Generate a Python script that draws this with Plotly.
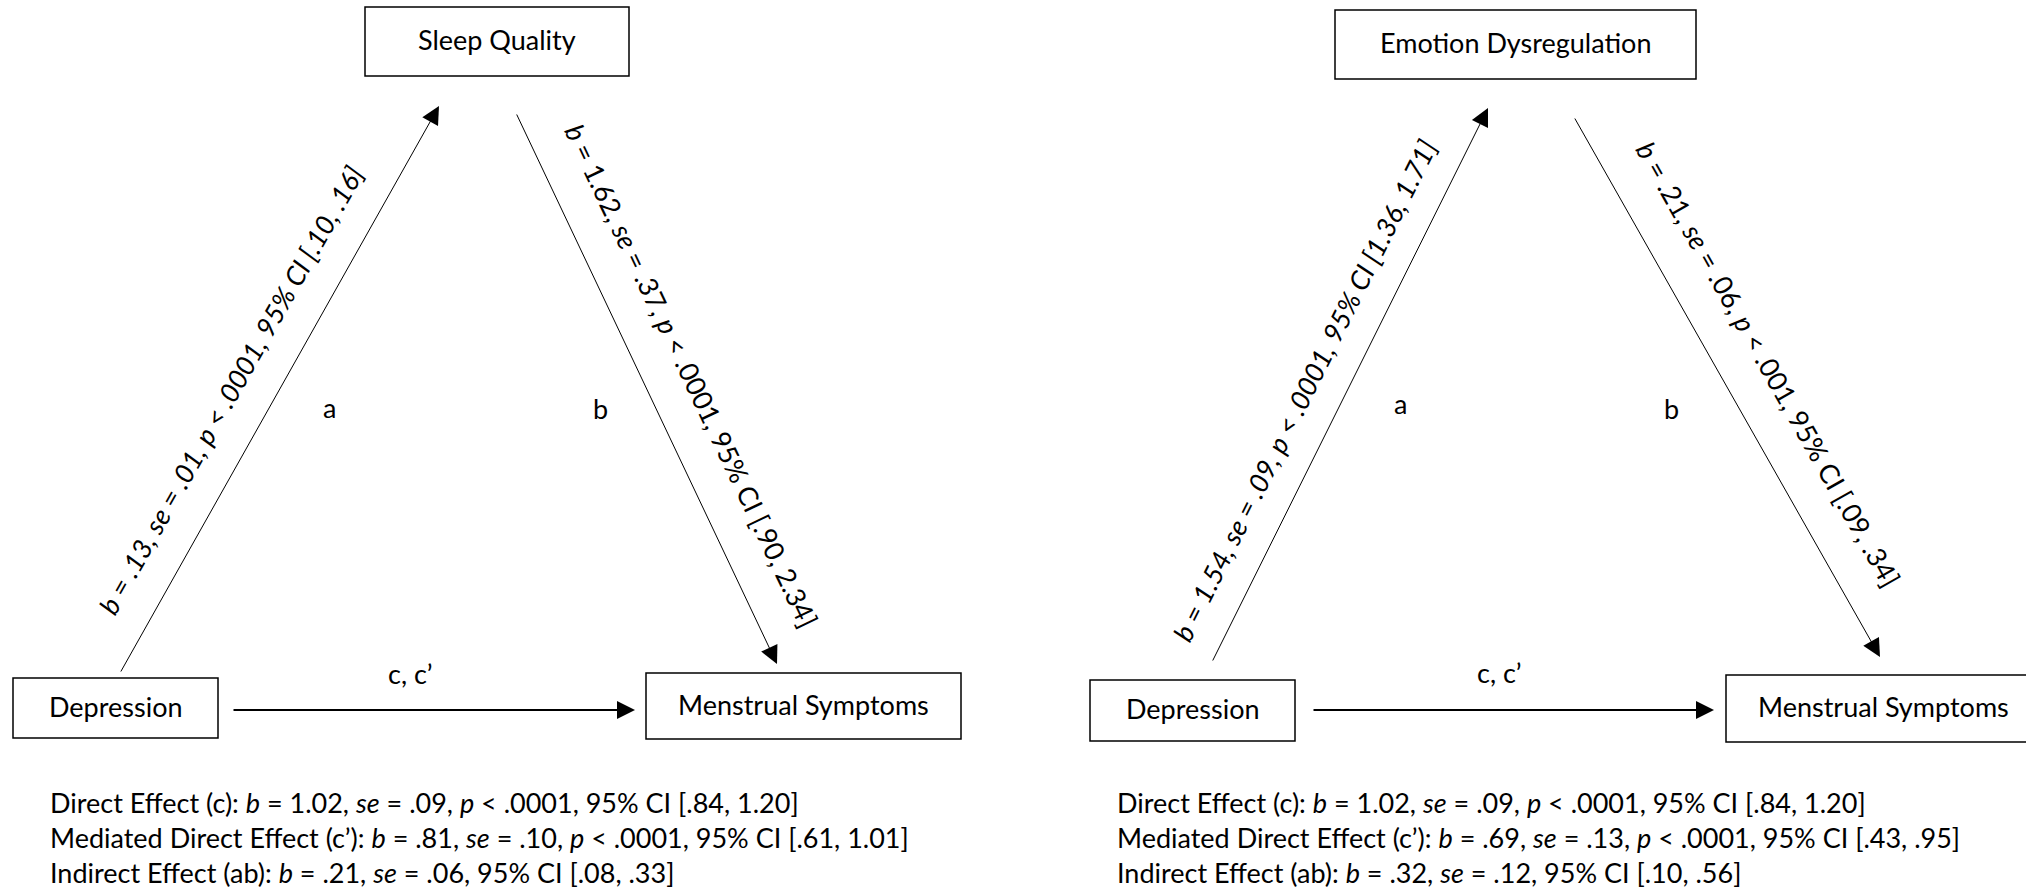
import plotly.graph_objects as go

# ---------------- data ----------------
left_nodes = ["Depression", "Sleep Quality", "Menstrual Symptoms"]
right_nodes = ["Depression", "Emotion Dysregulation", "Menstrual Symptoms"]
path_letters = ["a", "b", "c, c\u2019"]

# path stats: b, se, p, CI low, CI high
left_a = [".13", ".01", "&lt; .0001", ".10", ".16"]
left_b = ["1.62", ".37", "&lt; .0001", ".90", "2.34"]
right_a = ["1.54", ".09", "&lt; .0001", "1.36", "1.71"]
right_b = [".21", ".06", "&lt; .001", ".09", ".34"]

# summary effects: label, b, se, p (or None), CI low, CI high
left_effects = [
    ["Direct Effect (c)", "1.02", ".09", "&lt; .0001", ".84", "1.20"],
    ["Mediated Direct Effect (c\u2019)", ".81", ".10", "&lt; .0001", ".61", "1.01"],
    ["Indirect Effect (ab)", ".21", ".06", None, ".08", ".33"],
]
right_effects = [
    ["Direct Effect (c)", "1.02", ".09", "&lt; .0001", ".84", "1.20"],
    ["Mediated Direct Effect (c\u2019)", ".69", ".13", "&lt; .0001", ".43", ".95"],
    ["Indirect Effect (ab)", ".32", ".12", None, ".10", ".56"],
]

# ---------------- layout geometry (pixels) ----------------
W, H = 2026, 888
FONT = "Lato"
FS = 27
BLACK = "#000000"

panels = [
    dict(nodes=left_nodes, a=left_a, b=left_b, eff=left_effects, a_italic=True,
         boxes=[(13, 678, 218, 738), (365, 7, 629, 76), (646, 673, 961, 739)],
         arrow_a=((120, 673), (439, 106)), arrow_b=((516, 113), (777, 664)),
         arrow_c=((232, 710), (635, 710)),
         lab_a=(230, 390, -60.6), lab_b=(692, 375, 64.6),
         let_pos=[(329, 407), (600, 408), (410, 673)], eff_x=48),
    dict(nodes=right_nodes, a=right_a, b=right_b, eff=right_effects, a_italic=True,
         boxes=[(1090, 680, 1295, 741), (1335, 10, 1696, 79), (1726, 675, 2040, 742)],
         arrow_a=((1212, 662), (1488, 108)), arrow_b=((1574, 117), (1880, 657)),
         arrow_c=((1312, 710), (1714, 710)),
         lab_a=(1304, 390, -63.5), lab_b=(1769, 364, 60.5),
         let_pos=[(1400, 403), (1671, 408), (1499, 672)], eff_x=1115),
]
eff_y = [802, 837, 872]


def path_text(s, all_italic=False):
    t = (f"<i>b</i> = {s[0]}, <i>se</i> = {s[1]}, <i>p</i> {s[2]}, "
         f"95% CI [{s[3]}, {s[4]}]")
    return f"<i>{t}</i>" if all_italic else t


def eff_text(e):
    t = f"{e[0]}: <i>b</i> = {e[1]}, <i>se</i> = {e[2]}, "
    if e[3] is not None:
        t += f"<i>p</i> {e[3]}, "
    t += f"95% CI [{e[4]}, {e[5]}]"
    return t


fig = go.Figure()
shapes, annotations = [], []

for P in panels:
    for (x0, y0, x1, y1), name in zip(P["boxes"], P["nodes"]):
        shapes.append(dict(type="rect", xref="x", yref="y", x0=x0, y0=y0, x1=x1, y1=y1,
                           line=dict(color=BLACK, width=1.5), fillcolor="rgba(0,0,0,0)"))
        annotations.append(dict(x=(x0 + x1) / 2, y=(y0 + y1) / 2 - 2, xref="x", yref="y",
                                text=name, showarrow=False,
                                font=dict(family=FONT, size=FS, color=BLACK),
                                xanchor="center", yanchor="middle"))
    for key, w, sz in (("arrow_a", 1, 3.6), ("arrow_b", 1, 3.6), ("arrow_c", 2, 1.8)):
        (tx, ty), (hx, hy) = P[key]
        annotations.append(dict(x=hx, y=hy, ax=tx, ay=ty, xref="x", yref="y",
                                axref="x", ayref="y", text="", showarrow=True,
                                arrowhead=2, arrowsize=sz, arrowwidth=w,
                                arrowcolor=BLACK, standoff=0, startstandoff=0))
    x, y, ang = P["lab_a"]
    annotations.append(dict(x=x, y=y, xref="x", yref="y", text=path_text(P["a"], P["a_italic"]),
                            textangle=ang, showarrow=False,
                            font=dict(family=FONT, size=FS, color=BLACK),
                            xanchor="center", yanchor="middle"))
    x, y, ang = P["lab_b"]
    annotations.append(dict(x=x, y=y, xref="x", yref="y", text=path_text(P["b"]),
                            textangle=ang, showarrow=False,
                            font=dict(family=FONT, size=FS, color=BLACK),
                            xanchor="center", yanchor="middle"))
    for (lx, ly), letter in zip(P["let_pos"], path_letters):
        annotations.append(dict(x=lx, y=ly, xref="x", yref="y", text=letter, showarrow=False,
                                font=dict(family=FONT, size=FS, color=BLACK),
                                xanchor="center", yanchor="middle"))
    for yy, e in zip(eff_y, P["eff"]):
        annotations.append(dict(x=P["eff_x"], y=yy, xref="x", yref="y", text=eff_text(e),
                                showarrow=False, font=dict(family=FONT, size=FS, color=BLACK),
                                xanchor="left", yanchor="middle"))

fig.update_layout(
    width=W, height=H,
    margin=dict(l=0, r=0, t=0, b=0),
    paper_bgcolor="white", plot_bgcolor="white",
    xaxis=dict(range=[0, W], visible=False, fixedrange=True),
    yaxis=dict(range=[H, 0], visible=False, fixedrange=True),
    shapes=shapes, annotations=annotations, showlegend=False,
)

fig.write_html(
    "out.html",
    config={"displayModeBar": False},
    post_script="document.body.style.margin='0';document.body.style.overflow='hidden';",
)
